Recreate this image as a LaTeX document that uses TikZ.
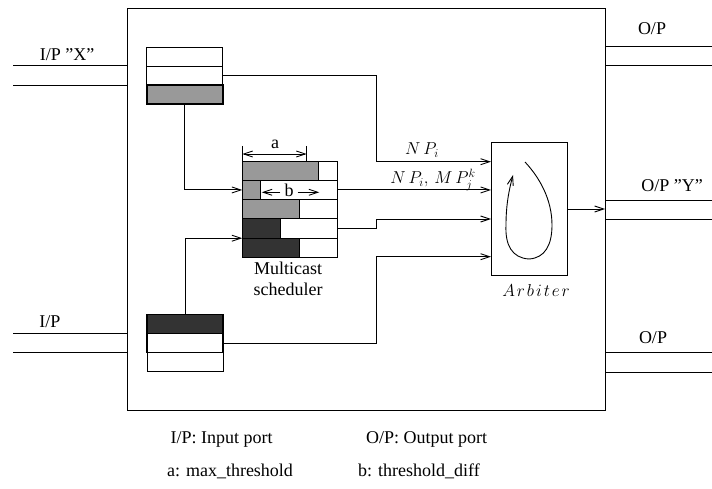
\documentclass[tikz,border=0pt]{standalone}
\usepackage{fontspec}
\setmainfont{Liberation Serif}
\usetikzlibrary{arrows.meta,calc}
\definecolor{lgray}{HTML}{999999}
\definecolor{dgray}{HTML}{333333}
\begin{document}
\begin{tikzpicture}[x=1pt,y=-1pt,
  every node/.style={font=\fontsize{18}{21}\selectfont},
  ln/.style={line width=0.9pt},
  arr/.style={ln,-{Straight Barb[length=9pt,width=6pt]}},
  qrow/.style={draw,line width=0.9pt,fill=white,minimum width=76pt,minimum height=19pt,inner sep=0pt,outer sep=0pt},
  srow/.style={draw,line width=0.9pt,fill=white,minimum width=95pt,minimum height=19.3pt,inner sep=0pt,outer sep=0pt},
  bar/.style={draw,line width=0.9pt,minimum height=19.3pt,inner sep=0pt,outer sep=0pt,anchor=west},
  lbl/.style={inner sep=1pt}]
\useasboundingbox (0,0) rectangle (712,489);
% main box
\node[draw,line width=1pt,minimum width=477.5pt,minimum height=401.5pt,inner sep=0pt,outer sep=0pt] (mainbox) at (366.25,209.25) {};
% top queue (I/P X)
\node[qrow] (q1a) at (184.7,56.5) {};
\node[qrow] (q1b) at (184.7,75.5) {};
\node[qrow,fill=lgray,line width=1.6pt] (q1c) at (184.7,94.5) {};
% bottom queue (I/P)
\node[qrow,fill=dgray,line width=1.2pt] (q2a) at (185,324) {};
\node[qrow,line width=1.2pt] (q2b) at (185,343) {};
\node[qrow] (q2c) at (185,362) {};
% scheduler
\node[srow] (s1) at (289.8,170.65) {};
\node[srow] (s2) at (289.8,189.95) {};
\node[srow] (s3) at (289.8,209.25) {};
\node[srow] (s4) at (289.8,228.55) {};
\node[srow] (s5) at (289.8,247.85) {};
\node[bar,fill=lgray,minimum width=76pt] (g1) at (s1.west) {};
\node[bar,fill=lgray,minimum width=18.4pt] (g2) at (s2.west) {};
\node[bar,fill=lgray,minimum width=57pt] (g3) at (s3.west) {};
\node[bar,fill=dgray,minimum width=38.4pt] (g4) at (s4.west) {};
\node[bar,fill=dgray,minimum width=57pt] (g5) at (s5.west) {};
\node[align=center,inner sep=0pt] (schedlbl) at (288,279) {Multicast\\scheduler};
% dimension a
\coordinate (aL) at (242.3,154);
\coordinate (aR) at (306.7,154);
\draw[ln] (242.3,146) -- (242.3,161);
\draw[ln] (306.7,146) -- (306.7,161);
\draw[ln,{Straight Barb[length=9pt,width=6pt]}-{Straight Barb[length=9pt,width=6pt]}] (aL) -- (aR);
\node[lbl] (alb) at (275,144) {a};
% dimension b
\node[lbl,inner sep=4pt] (blb) at (289,190.5) {b};
\coordinate (bL) at (261.7,192.3);
\coordinate (bR) at (319.3,192.3);
\draw[arr] (blb.west |- bL) -- (bL);
\draw[arr] (blb.east |- bR) -- (bR);
% arbiter
\node[draw,line width=0.9pt,minimum width=76.3pt,minimum height=133.4pt,inner sep=0pt,outer sep=0pt] (arb) at (529.2,209) {};
\node[lbl] (arblbl) at (536,290) {$A\mskip2mu r\mskip2mu b\mskip2mu i\mskip2mu t\mskip2mu e\mskip2mu r$};
\draw[arr] (525,162) .. controls (540,178) and (552,200) .. (552,225)
  .. controls (552,245) and (545,258) .. (529,259)
  .. controls (512,258) and (505,245) .. (506,225)
  .. controls (506,205) and (509,190) .. (513,175);
% junction coordinates
\coordinate (jx) at (376,0);
\coordinate (a1) at (491,161.7);
\coordinate (a3) at (491,219);
\coordinate (a4) at (491,256.7);
% connectors
\draw[arr] (q1b.east) -- (q1b.east -| jx) |- (a1);
\draw[arr] (q1c.south) |- (s2.west);
\draw[arr] (q2a.north) |- (s5.north west);
\draw[arr] (s2.east) -- (s2.east -| arb.west);
\draw[arr] (s4.east) -- (s4.east -| jx) |- (a3);
\draw[arr] (q2b.east) -- (q2b.east -| jx) |- (a4);
\draw[arr] (arb.east) -- (arb.east -| mainbox.east);
\node[lbl] (np1) at (422,150) {$N\mskip3mu P_i$};
\node[lbl] (np2) at (433,180) {$N\mskip3mu P_i,\,M\mskip3mu P^k_j$};
% input ports
\coordinate (i1a) at (13,65.7); \coordinate (i1b) at (13,85);
\coordinate (i2a) at (13,333.3); \coordinate (i2b) at (13,352.3);
\draw[ln] (i1a) -- (i1a -| mainbox.west);
\draw[ln] (i1b) -- (i1b -| mainbox.west);
\draw[ln] (i2a) -- (i2a -| mainbox.west);
\draw[ln] (i2b) -- (i2b -| mainbox.west);
\node[lbl] (ipx) at (67,54.5) {I/P ''X''};
\node[lbl] (ip) at (50,322) {I/P};
% output ports
\coordinate (o1a) at (712,46); \coordinate (o1b) at (712,65.7);
\coordinate (o2a) at (712,200); \coordinate (o2b) at (712,219);
\coordinate (o3a) at (712,352.7); \coordinate (o3b) at (712,372.3);
\draw[ln] (o1a) -- (o1a -| mainbox.east);
\draw[ln] (o1b) -- (o1b -| mainbox.east);
\draw[ln] (o2a) -- (o2a -| mainbox.east);
\draw[ln] (o2b) -- (o2b -| mainbox.east);
\draw[ln] (o3a) -- (o3a -| mainbox.east);
\draw[ln] (o3b) -- (o3b -| mainbox.east);
\node[lbl] (op1) at (652,29) {O/P};
\node[lbl] (op2) at (672,186) {O/P ''Y''};
\node[lbl] (op3) at (653,338) {O/P};
% legend
\node[lbl] (lg1) at (221.7,439) {I/P: Input port};
\node[lbl] (lg2) at (426.7,439) {O/P: Output port};
\node[lbl] (lg3) at (230,471) {a: max\_threshold};
\node[lbl] (lg4) at (419,471) {b: threshold\_diff};
\end{tikzpicture}
\end{document}
